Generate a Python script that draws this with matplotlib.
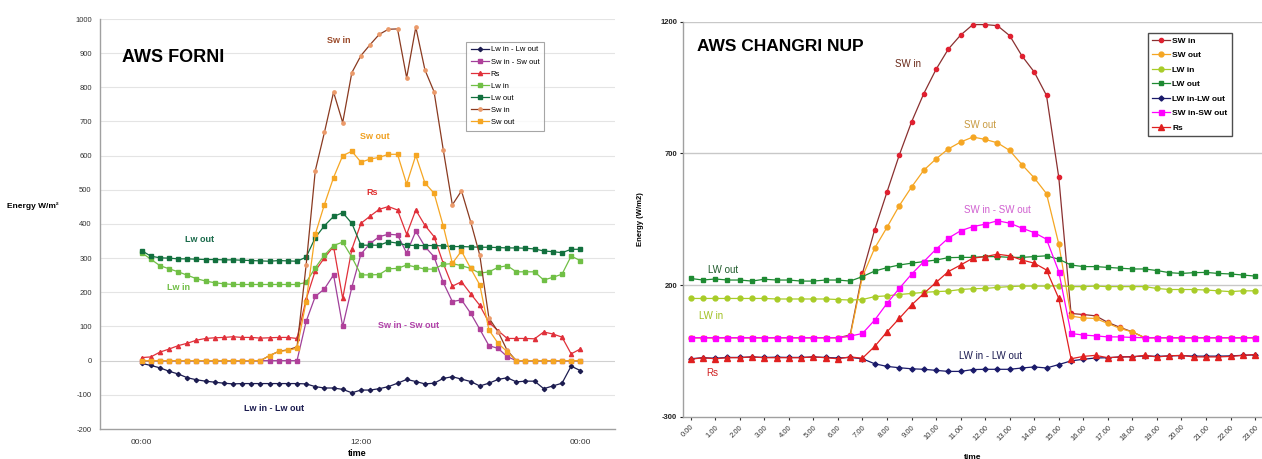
import matplotlib
matplotlib.use("Agg")
import matplotlib.pyplot as plt
import numpy as np

plt.rcParams['font.family'] = ['Liberation Sans', 'DejaVu Sans']
plt.rcParams['axes.unicode_minus'] = False

# ---------------- AWS FORNI (left) : half-hourly, 00:00 -> 24:00 ----------------
forni_hours = [h * 0.5 for h in range(49)]
forni_xticks = [0, 12, 24]
forni_xlabels = ["00:00", "12:00", "00:00"]
forni_yticks = list(range(-200, 1001, 100))

forni_lw_net = [-8, -14, -21, -31, -39, -50, -56, -60, -63, -66, -68, -67, -67, -67, -67, -67, -67, -67,
                -68, -76, -80, -80, -84, -94, -86, -86, -82, -76, -66, -55, -61, -68, -66, -52, -47, -54,
                -61, -74, -66, -55, -50, -62, -60, -60, -82, -74, -66, -16, -29]
forni_sw_net = [0, 0, 0, 0, 0, 0, 0, 0, 0, 0, 0, 0, 0, 0, 0, 0, 0, 0,
                115, 188, 210, 251, 100, 215, 312, 343, 363, 370, 368, 315, 379, 334, 304, 229, 173, 178,
                139, 92, 44, 36, 12, 0, 0, 0, 0, 0, 0, 0, 0]
forni_rs = [9, 11, 25, 34, 44, 51, 60, 65, 67, 68, 70, 68, 68, 66, 67, 68, 68, 65,
            180, 263, 301, 334, 182, 326, 402, 423, 443, 451, 441, 370, 441, 396, 363, 285, 218, 231,
            196, 162, 112, 88, 65, 65, 65, 64, 84, 78, 69, 20, 34]
forni_lw_in = [316, 297, 278, 269, 260, 250, 240, 233, 228, 225, 223, 223, 223, 223, 223, 223, 223, 223,
               229, 272, 309, 337, 347, 303, 251, 251, 252, 269, 270, 280, 274, 268, 268, 282, 284, 278,
               270, 256, 260, 273, 278, 260, 260, 260, 236, 244, 253, 306, 293]
forni_lw_out = [322, 306, 301, 300, 298, 298, 297, 296, 296, 295, 295, 294, 293, 292, 291, 293, 292, 291,
                303, 360, 395, 422, 433, 402, 338, 338, 338, 348, 344, 338, 337, 337, 337, 336, 334, 334,
                333, 332, 332, 331, 330, 330, 329, 327, 321, 319, 316, 326, 326]
forni_sw_in = [0, 0, 0, 0, 0, 0, 0, 0, 0, 0, 0, 0, 0, 0, 15, 27, 32, 40,
               280, 556, 668, 786, 697, 843, 893, 925, 955, 970, 971, 828, 976, 851, 787, 618, 456, 497,
               407, 309, 125, 85, 30, 0, 0, 0, 0, 0, 0, 0, 0]
forni_sw_out = [0, 0, 0, 0, 0, 0, 0, 0, 0, 0, 0, 0, 0, 0, 15, 27, 30, 36,
                173, 370, 457, 536, 600, 613, 581, 590, 595, 604, 604, 517, 601, 520, 490, 395, 285, 321,
                270, 222, 90, 51, 26, 0, 0, 0, 0, 0, 0, 0, 0]

# ---------------- AWS CHANGRI NUP (right) : half-hourly, 0.00 -> 23.00 ----------------
cn_hours = [h * 0.5 for h in range(47)]
cn_xticks = list(range(24))
cn_xlabels = ["%d.00" % h for h in range(24)]
cn_yticks = [-300, 200, 700, 1200]

cn_sw_in = [0, 0, 0, 0, 0, 0, 0, 0, 0, 0, 0, 0, 0,
            10, 244, 410, 553, 693, 819, 927, 1019, 1096, 1149, 1189, 1189, 1185, 1147, 1070, 1009, 920,
            609, 92, 88, 83, 58, 39, 22,
            0, 0, 0, 0, 0, 0, 0, 0, 0, 0]
cn_sw_out = [0, 0, 0, 0, 0, 0, 0, 0, 0, 0, 0, 0, 0,
             5, 232, 340, 419, 501, 572, 636, 679, 717, 743, 762, 753, 740, 711, 657, 607, 547,
             356, 82, 75, 73, 54, 35, 22,
             0, 0, 0, 0, 0, 0, 0, 0, 0, 0]
cn_lw_in = [149, 149, 149, 149, 149, 149, 149, 147, 147, 147, 147, 147, 145,
            143, 145, 156, 159, 164, 168, 172, 175, 177, 183, 186, 187, 191, 194, 196, 196, 196,
            197, 194, 194, 196, 194, 194, 194, 194, 187, 183, 183, 183, 181, 178, 175, 178, 178]
cn_lw_out = [225, 219, 223, 219, 219, 215, 222, 219, 219, 215, 215, 219, 219,
             215, 232, 253, 266, 276, 283, 289, 295, 304, 305, 305, 308, 308, 305, 305, 308, 311,
             298, 276, 270, 270, 267, 264, 261, 261, 255, 247, 244, 247, 248, 244, 242, 238, 234]
cn_lw_net = [-80, -76, -78, -75, -75, -73, -75, -74, -75, -75, -73, -75, -77,
             -75, -80, -99, -109, -114, -118, -120, -124, -128, -128, -121, -120, -120, -120, -115, -111, -115,
             -102, -88, -82, -77, -76, -73, -72, -69, -71, -69, -68, -70, -70, -70, -69, -67, -65]
cn_sw_net = [0, 0, 0, 0, 0, 0, 0, 0, 0, 0, 0, 0, 0,
             6, 16, 67, 130, 187, 241, 289, 336, 378, 406, 422, 431, 444, 435, 416, 399, 374,
             251, 16, 10, 7, 3, 3, 1,
             0, 0, 0, 0, 0, 0, 0, 0, 0, 0]
cn_rs = [-82, -76, -80, -76, -76, -73, -76, -76, -76, -76, -73, -76, -80,
         -73, -78, -33, 22, 73, 124, 168, 210, 251, 276, 302, 308, 317, 311, 295, 283, 257,
         149, -80, -71, -67, -76, -73, -73, -67, -73, -69, -67, -73, -73, -73, -71, -67, -64]

W, H = 1262, 459
fig = plt.figure(figsize=(W / 100, H / 100), dpi=100)

# ================= LEFT =================
axL = fig.add_axes([100 / W, (H - 429) / H, 515 / W, 410 / H])
axL.set_xlim(-2.28, 25.9)
axL.set_ylim(-200, 1000)
axL.set_yticks(forni_yticks)
axL.tick_params(axis='y', labelsize=5.5, length=0, pad=6, colors='#333333')
axL.set_xticks(forni_xticks)
axL.set_xticklabels(forni_xlabels)
axL.tick_params(axis='x', labelsize=6, length=0, pad=7, colors='#333333')
for v in forni_yticks[1:]:
    axL.axhline(v, color='#e4e4e4' if v != 0 else '#d0d0d0', lw=0.8, zorder=0)
for s in ['top', 'right']:
    axL.spines[s].set_visible(False)
for s in ['left', 'bottom']:
    axL.spines[s].set_color('#a0a0a0')
    axL.spines[s].set_linewidth(1.0)

lw = 0.9
axL.plot(forni_hours, forni_lw_net, color='#1c1c50', lw=lw, marker='D', ms=2.2, label='Lw in - Lw out')
axL.plot(forni_hours, forni_sw_net, color='#a0409a', lw=lw, marker='s', ms=2.4, mfc='#b0409a', mec='#b0409a', label='Sw in - Sw out')
axL.plot(forni_hours, forni_rs, color='#e0303a', lw=lw, marker='^', ms=3, label='Rs')
axL.plot(forni_hours, forni_lw_in, color='#70bf45', lw=lw, marker='s', ms=3, label='Lw in')
axL.plot(forni_hours, forni_lw_out, color='#12703e', lw=lw, marker='s', ms=3.3, label='Lw out')
axL.plot(forni_hours, forni_sw_in, color='#8a3a20', lw=lw, marker='o', ms=2.4, mfc='#eb9a6a', mec='#eb9a6a', label='Sw in')
axL.plot(forni_hours, forni_sw_out, color='#f5a623', lw=lw, marker='s', ms=3.5, label='Sw out')

axL.set_ylabel('Energy W/m²', rotation=0, fontsize=6, fontweight='bold', labelpad=0)
axL.yaxis.set_label_coords(-0.13, 0.535)
axL.set_xlabel('time', fontsize=6.5, fontweight='bold', labelpad=2)

axL.text(-1.07, 888, 'AWS FORNI', fontsize=13, fontweight='bold', ha='left', va='center')
lab_kw = dict(fontsize=6.5, fontweight='bold', ha='center', va='center')
axL.text(10.8, 936, 'Sw in', color='#9a4a2a', **lab_kw)
axL.text(12.77, 655, 'Sw out', color='#f0a020', **lab_kw)
axL.text(12.6, 493, 'Rs', color='#e03030', **lab_kw)
axL.text(3.19, 356, 'Lw out', color='#1a6a4a', **lab_kw)
axL.text(1.99, 213, 'Lw in', color='#70bf45', **lab_kw)
axL.text(14.63, 104, 'Sw in - Sw out', color='#b040a8', **lab_kw)
axL.text(7.24, -141, 'Lw in - Lw out', color='#1c1c50', **lab_kw)

legL = axL.legend(loc='upper left', bbox_to_anchor=(0.711, 0.945), fontsize=5.5, frameon=True,
                  fancybox=False, edgecolor='#909090', handlelength=2.4, labelspacing=0.62,
                  borderpad=0.6, handletextpad=0.2, borderaxespad=0)
legL.get_frame().set_linewidth(0.8)

# ================= RIGHT =================
axR = fig.add_axes([683 / W, (H - 416.7) / H, (W - 683) / W, 395 / H])
axR.set_xlim(-0.31, 23.28)
axR.set_ylim(-300, 1200)
axR.set_yticks(cn_yticks)
axR.tick_params(axis='y', labelsize=5.5, length=2, pad=2, colors='#222222')
for t in axR.get_yticklabels():
    t.set_fontweight('bold')
axR.set_xticks(cn_xticks)
axR.set_xticklabels(cn_xlabels, rotation=45, ha='right', rotation_mode='anchor')
axR.tick_params(axis='x', labelsize=5.5, length=2, pad=3, colors='#333333')
for v in [200, 700, 1200]:
    axR.axhline(v, color='#c8c8c8', lw=1.0, zorder=0)
for s in ['top', 'right']:
    axR.spines[s].set_visible(False)
for s in ['left', 'bottom']:
    axR.spines[s].set_color('#a0a0a0')
    axR.spines[s].set_linewidth(1.0)

axR.plot(cn_hours, cn_sw_in, color='#8a3030', lw=lw, marker='o', ms=3, mfc='#e02030', mec='#e02030', label='SW in')
axR.plot(cn_hours, cn_sw_out, color='#f5a623', lw=lw, marker='o', ms=3.5, label='SW out')
axR.plot(cn_hours, cn_lw_in, color='#a8cc28', lw=lw, marker='o', ms=3.5, label='LW in')
axR.plot(cn_hours, cn_lw_out, color='#1e8a32', lw=lw, marker='s', ms=3.3, label='LW out')
axR.plot(cn_hours, cn_lw_net, color='#1a1a6a', lw=lw, marker='D', ms=2.6, label='LW in-LW out')
axR.plot(cn_hours, cn_sw_net, color='#ff00ff', lw=lw, marker='s', ms=3.6, label='SW in-SW out')
axR.plot(cn_hours, cn_rs, color='#e02020', lw=lw, marker='^', ms=3.8, label='Rs')

axR.set_ylabel('Energy (W/m2)', fontsize=5.5, fontweight='bold', labelpad=12)
axR.set_xlabel('time', fontsize=6, fontweight='bold', labelpad=9)

axR.text(0.26, 1106, 'AWS CHANGRI NUP', fontsize=12.5, fontweight='bold', ha='left', va='center')
rk = dict(fontsize=7, ha='center', va='center')
axR.text(8.86, 1041, 'SW in', color='#6a2a1a', **rk)
axR.text(11.79, 809, 'SW out', color='#c89a40', **rk)
axR.text(12.48, 485, 'SW in - SW out', color='#d060d0', **rk)
axR.text(1.32, 257, 'LW out', color='#1e5a2a', **rk)
axR.text(0.83, 82, 'LW in', color='#a0c020', **rk)
axR.text(0.87, -135, 'Rs', color='#d02020', **rk)
axR.text(12.2, -70, 'LW in - LW out', color='#1a1a50', **rk)

legR = axR.legend(loc='upper left', bbox_to_anchor=(0.803, 0.972), fontsize=6, frameon=True,
                  fancybox=False, edgecolor='#222222', handlelength=2.2, labelspacing=0.8,
                  borderpad=0.5, handletextpad=0.2, borderaxespad=0,
                  prop={'weight': 'bold', 'size': 6})
legR.get_frame().set_linewidth(1.0)

fig.savefig('out.png', dpi=100)
